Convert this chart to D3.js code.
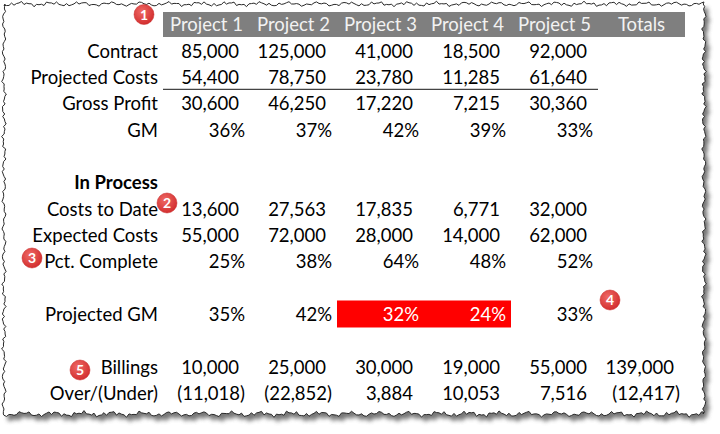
<!DOCTYPE html>
<html>
<head>
<meta charset="utf-8">
<script src="https://cdn.jsdelivr.net/npm/d3@7"></script>
<style>
  html, body { margin: 0; padding: 0; background: #ffffff; }
  svg { display: block; }
  text { font-family: Lato, "Open Sans", sans-serif; }
</style>
</head>
<body>
<svg id="chart" width="720" height="434"></svg>
<script>
// ---- data ----
const columns = ["Project 1", "Project 2", "Project 3", "Project 4", "Project 5", "Totals"];
const contract = [85000, 125000, 41000, 18500, 92000];
const projectedCosts = [54400, 78750, 23780, 11285, 61640];
const grossProfit = [30600, 46250, 17220, 7215, 30360];
const gm = [0.36, 0.37, 0.42, 0.39, 0.33];
const costsToDate = [13600, 27563, 17835, 6771, 32000];
const expectedCosts = [55000, 72000, 28000, 14000, 62000];
const pctComplete = [0.25, 0.38, 0.64, 0.48, 0.52];
const projectedGM = [0.35, 0.42, 0.32, 0.24, 0.33];
const billings = [10000, 25000, 30000, 19000, 55000, 139000];
const overUnder = [-11018, -22852, 3884, 10053, 7516, -12417];
const highlighted = ["Project 3", "Project 4"];
const badgeLabels = ["1", "2", "3", "4", "5"];

// rows: label, values, type, row index
const rows = [
  {label: "Contract", values: contract, type: "num", r: 1},
  {label: "Projected Costs", values: projectedCosts, type: "num", r: 2, underline: true},
  {label: "Gross Profit", values: grossProfit, type: "num", r: 3},
  {label: "GM", values: gm, type: "pct", r: 4},
  {label: "In Process", values: [], type: "head", r: 6},
  {label: "Costs to Date", values: costsToDate, type: "num", r: 7},
  {label: "Expected Costs", values: expectedCosts, type: "num", r: 8},
  {label: "Pct. Complete", values: pctComplete, type: "pct", r: 9},
  {label: "Projected GM", values: projectedGM, type: "pct", r: 11, highlight: true},
  {label: "Billings", values: billings, type: "num", r: 13},
  {label: "Over/(Under)", values: overUnder, type: "num", r: 14},
];

const svg = d3.select("#chart");

// ---- torn paper frame ----
function jag(i) {
  return Math.sin(i * 1.7) * 1.0 + Math.sin(i * 0.53 + 1) * 1.2 + Math.sin(i * 3.1 + 2) * 0.7;
}
const L = 4, T = 4, R = 704, B = 414;
const pts = [];
let k = 0;
for (let x = L; x <= R; x += 2.5) pts.push([x, T + jag(k++)]);
for (let y = T; y <= B; y += 2.5) pts.push([R + jag(k++) * 0.9, y]);
for (let x = R; x >= L; x -= 2.5) pts.push([x, B + jag(k++) * 1.2]);
for (let y = B; y >= T; y -= 2.5) pts.push([L + jag(k++) * 0.9, y]);
const frame = d3.line()(pts) + "Z";

const defs = svg.append("defs");
defs.append("filter").attr("id", "blur").attr("x", "-5%").attr("y", "-5%").attr("width", "110%").attr("height", "110%")
  .append("feGaussianBlur").attr("stdDeviation", 2.2);
const grad = defs.append("radialGradient").attr("id", "badge").attr("cx", "40%").attr("cy", "35%").attr("r", "65%");
grad.append("stop").attr("offset", "0%").attr("stop-color", "#ef6a66");
grad.append("stop").attr("offset", "100%").attr("stop-color", "#d32f2f");

svg.append("path").attr("d", frame).attr("fill", "#555").attr("opacity", 0.8)
  .attr("transform", "translate(4,5)").attr("filter", "url(#blur)");
svg.append("path").attr("d", frame).attr("fill", "#fff").attr("stroke", "#2a2a2a").attr("stroke-width", 1);

// ---- scales ----
const x = d3.scaleBand().domain(columns).range([163, 685]).padding(0);
const y = d3.scaleLinear().domain([0, 14]).range([24.8, 393.5]);
const labelRight = 158;
const fs = 18.5;

const fmtNum = d3.format(",.0f");
const fmtPct = d3.format(".0%");
function fmt(v, type) {
  if (type === "pct") return fmtPct(v);
  return v < 0 ? "(" + fmtNum(-v) + ")" : fmtNum(v);
}
function rightEdge(col, v, type) {
  const x1 = x(col) + x.bandwidth();
  if (type === "pct" || v < 0) return x1 - 5;
  return x1 - 11;
}

// header
svg.append("rect").attr("x", x.range()[0]).attr("y", 12)
  .attr("width", x.range()[1] - x.range()[0]).attr("height", 25).attr("fill", "#7f7f7f");
svg.selectAll("text.hdr").data(columns).join("text").attr("class", "hdr")
  .attr("x", d => x(d) + x.bandwidth() / 2).attr("y", y(0)).attr("dy", "0.35em")
  .attr("text-anchor", "middle").attr("fill", "#f2f2f2").attr("font-size", fs).text(d => d);

// highlight rects
rows.filter(r => r.highlight).forEach(r => {
  const x0 = x(highlighted[0]);
  const x1 = x(highlighted[highlighted.length - 1]) + x.bandwidth();
  svg.append("rect").attr("x", x0).attr("y", y(r.r) - 14).attr("width", x1 - x0).attr("height", 27).attr("fill", "#ff0000");
});

// labels
svg.selectAll("text.lbl").data(rows).join("text").attr("class", "lbl")
  .attr("x", labelRight).attr("y", d => y(d.r)).attr("dy", "0.35em")
  .attr("text-anchor", "end").attr("font-size", fs).attr("fill", "#000")
  .attr("font-weight", d => d.type === "head" ? "bold" : "normal").text(d => d.label);

// values
rows.forEach(r => {
  const cells = r.values.map((v, i) => ({v, col: columns[i]}));
  svg.selectAll(null).data(cells).join("text")
    .attr("x", d => rightEdge(d.col, d.v, r.type)).attr("y", y(r.r)).attr("dy", "0.35em")
    .attr("text-anchor", "end").attr("font-size", fs)
    .attr("fill", d => (r.highlight && highlighted.includes(d.col)) ? "#fff" : "#000")
    .text(d => fmt(d.v, r.type));
  if (r.underline) {
    svg.append("line").attr("x1", x(columns[0])).attr("x2", x(columns[4]) + x.bandwidth())
      .attr("y1", y(r.r) + 12).attr("y2", y(r.r) + 12).attr("stroke", "#444").attr("stroke-width", 1.2);
  }
});

// badges (annotation markers)
const badgePos = [
  {cx: 144, cy: 14.5},
  {cx: 167, cy: 203},
  {cx: 32, cy: 258},
  {cx: 610, cy: 300},
  {cx: 80, cy: 370},
].map((d, i) => ({...d, n: badgeLabels[i]}));
const bg = svg.selectAll("g.badge").data(badgePos).join("g").attr("class", "badge")
  .attr("transform", d => `translate(${d.cx},${d.cy})`);
bg.append("circle").attr("r", 10).attr("fill", "url(#badge)").attr("stroke", "#c62828").attr("stroke-width", 0.5);
bg.append("text").attr("text-anchor", "middle").attr("dy", "0.36em").attr("fill", "#fff")
  .attr("font-size", 14).attr("font-weight", "bold").attr("font-family", "Arial, Liberation Sans, sans-serif").text(d => d.n);
</script>
</body>
</html>
